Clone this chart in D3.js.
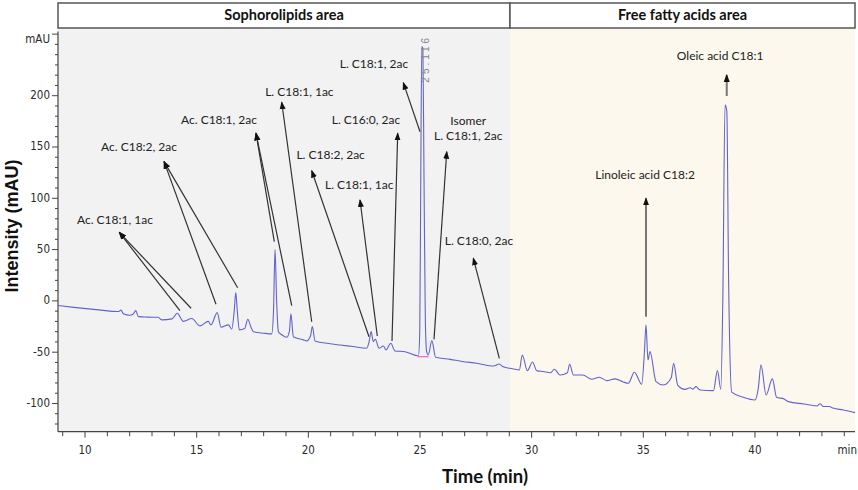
<!DOCTYPE html>
<html>
<head>
<meta charset="utf-8">
<script src="https://cdn.jsdelivr.net/npm/d3@7"></script>
<style>
  html, body { margin: 0; padding: 0; background: #fff; }
  svg { display: block; }
  .tick-label { font-family: "Liberation Sans Narrow", "DejaVu Sans Condensed", "Liberation Sans", sans-serif; font-size: 11.5px; fill: #2a2a2a; }
  .ann { font-family: Lato, "Open Sans", sans-serif; font-size: 12px; fill: #222; }
  .hdr { font-family: Lato, "Open Sans", sans-serif; font-size: 14.5px; font-weight: bold; fill: #111; }
</style>
</head>
<body>
<svg id="chart" width="858" height="490"></svg>
<script>
// ---------- data ----------
// chromatogram trace: [time (min), intensity (mAU)]
const traceTime = [8.79,9.5,10.5,11.49,11.61,11.72,12.0,12.15,12.27,12.39,12.8,13.28,13.43,13.9,14.13,14.4,14.78,15.15,15.52,15.64,15.92,16.09,16.42,16.57,16.68,16.75,16.82,16.91,17.15,17.29,17.42,17.54,18.0,18.36,18.44,18.51,18.58,18.66,18.81,19.03,19.15,19.22,19.33,19.78,19.93,20.1,20.18,20.3,20.9,21.42,22.0,22.61,22.72,22.81,22.91,23.0,23.17,23.36,23.48,23.69,23.88,24.33,24.93,24.99,25.03,25.08,25.13,25.18,25.24,25.3,25.37,25.53,25.7,26.35,26.9,27.54,28.3,28.55,28.7,29.03,29.45,29.58,29.81,30.04,30.23,30.52,30.85,31.02,31.27,31.6,31.7,31.87,32.29,32.69,33.03,33.36,33.74,34.1,34.33,34.6,34.93,35.05,35.12,35.21,35.3,35.57,35.9,36.25,36.36,36.54,36.87,37.1,37.22,37.36,37.54,38.14,38.32,38.47,38.56,38.66,38.74,38.82,38.96,39.48,40.0,40.15,40.27,40.5,40.78,40.97,41.3,41.5,42.2,42.77,42.92,43.06,43.33,43.5,43.96,44.48];
const traceIntensity = [-4.5,-6.3,-8.5,-10.4,-9.0,-12.5,-14,-13,-9.5,-15.3,-15.8,-16,-18.5,-17.5,-12,-20,-17.2,-24.4,-20,-23.4,-11.4,-25.7,-23.4,-27.6,-10,8.1,-10,-28.3,-27,-17.9,-25,-30,-31.5,-32.2,-10,50.4,0,-30,-33,-35.5,-30,-12.7,-35,-38,-39,-34,-25,-39,-41.5,-43,-44.5,-46.2,-40,-30,-39.7,-37.4,-46.2,-44,-47.8,-41.3,-48.8,-49.5,-53.7,-30,100,248,246,120,-20,-49.5,-52.7,-38.7,-55,-57,-59,-60.8,-63.5,-61.5,-64,-65.7,-67.3,-52.7,-68,-59.5,-68,-68.9,-70,-66.7,-72.2,-70,-61.8,-72.2,-72.2,-76.4,-74.4,-77.7,-76,-79,-80.3,-69.6,-81.3,-50,-23.4,-57.6,-49.5,-78.7,-82,-75,-60.8,-82,-86.2,-84.6,-86,-83.6,-86.8,-87.5,-68,-86.2,0,191,185,20,-89,-94,-96.6,-85,-62.4,-91.7,-76,-94,-95.6,-98.2,-100.5,-102.4,-100.2,-103,-103,-104.5,-106.3,-108.9];

// integration baseline under the main peak
const baselineTime = [24.9, 25.38];
const baselineIntensity = [-54.4, -54.4];

// retention-time label of the main peak
const mainPeakRT = 25.116;
const mainPeakLabel = "25.116";

// regions
const regionNames = ["Sophorolipids area", "Free fatty acids area"];
const regionStart = [8.79, 29.03];
const regionEnd = [29.03, 44.48];

// annotations: text lines, text position, arrow head, arrow tails (time, mAU)
const annLabels = [["Ac. C18:1, 1ac"],["Ac. C18:2, 2ac"],["Ac. C18:1, 2ac"],["L. C18:1, 1ac"],["L. C18:2, 2ac"],["L. C18:1, 1ac"],["L. C16:0, 2ac"],["L. C18:1, 2ac"],["Isomer","L. C18:1, 2ac"],["L. C18:0, 2ac"],["Linoleic acid C18:2"],["Oleic acid C18:1"]];
const annTextTime = [11.34,12.42,16.0,19.6,21.0,22.28,22.58,22.94,27.16,27.64,35.08,38.44];
const annTextMAU = [78.1,148.7,175.3,202.9,141.5,112.0,175.6,229.9,174.6,57.7,122.0,237.4];
const annHeadTime = [11.535,13.54,17.657,18.808,20.151,22.314,24.002,24.253,26.197,27.388,35.122,38.736];
const annHeadMAU = [66.8,135.7,163.3,193.6,126.9,98.3,163.3,212.7,145.4,41.5,100,220.2];
const annTailTime = [[14.25,14.75],[15.865,16.835],[18.476,19.256],[20.151],[22.717],[23.089],[23.747],[25.001],[25.628],[28.553],[35.122],[38.736]];
const annTailMAU = [[-9.6,-7.2],[-3.3,12.8],[57.7,-4.7],[-20.3],[-34.9],[-34.2],[-39.1],[164.9],[-37.5],[-56],[-15.4],[199.7]];
const annHeavy = [false,false,false,false,false,false,false,false,false,false,true,true];

// axis ticks
const xMajorTicks = [10, 15, 20, 25, 30, 35, 40];
const yMajorTicks = [-100, -50, 0, 50, 100, 150, 200];
const yTopTick = 260;
const yUnitLabel = "mAU";
const xUnitLabel = "min";
const xTitle = "Time (min)";
const yTitle = "Intensity (mAU)";

// ---------- drawing ----------
const svg = d3.select("#chart");
const x = d3.scaleLinear().domain([8.79, 44.48]).range([58, 855]);
const y = d3.scaleLinear().domain([-127.5, 265]).range([431.7, 29]);

const headerTop = 3, headerBottom = 28;
const regionFill = ["#f2f2f2", "#fdf8ed"];

// backgrounds
regionNames.forEach((n, i) => {
  svg.append("rect")
    .attr("x", x(regionStart[i])).attr("y", headerBottom)
    .attr("width", x(regionEnd[i]) - x(regionStart[i]))
    .attr("height", y(-127.5) - headerBottom)
    .attr("fill", regionFill[i]);
});

// header boxes
regionNames.forEach((n, i) => {
  svg.append("rect")
    .attr("x", x(regionStart[i])).attr("y", headerTop)
    .attr("width", x(regionEnd[i]) - x(regionStart[i]))
    .attr("height", headerBottom - headerTop)
    .attr("fill", "#fff").attr("stroke", "#555").attr("stroke-width", 1.5);
  svg.append("text").attr("class", "hdr")
    .attr("x", (x(regionStart[i]) + x(regionEnd[i])) / 2)
    .attr("y", (headerTop + headerBottom) / 2 + 1)
    .attr("text-anchor", "middle").attr("dominant-baseline", "middle")
    .text(n);
});

// y axis
const yAxisG = svg.append("g");
yAxisG.append("line").attr("x1", 58).attr("x2", 58)
  .attr("y1", y(262.5)).attr("y2", y(-127.5)).attr("stroke", "#444").attr("stroke-width", 1.2);
const yMinor = d3.range(-120, 261, 10);
yAxisG.selectAll("line.ym").data(yMinor).join("line")
  .attr("x1", d => (yMajorTicks.includes(d) || d === yTopTick) ? 52 : 55).attr("x2", 58)
  .attr("y1", d => y(d)).attr("y2", d => y(d))
  .attr("stroke", "#444").attr("stroke-width", 1);
yAxisG.selectAll("text.yl").data(yMajorTicks).join("text")
  .attr("class", "tick-label")
  .attr("x", 50).attr("y", d => y(d))
  .attr("text-anchor", "end").attr("dominant-baseline", "middle")
  .text(d => d);
yAxisG.append("text").attr("class", "tick-label")
  .attr("x", 50).attr("y", y(yTopTick) + 5)
  .attr("text-anchor", "end").attr("dominant-baseline", "middle")
  .attr("font-size", "10px")
  .text(yUnitLabel);

// x axis
const xAxisG = svg.append("g");
xAxisG.append("line").attr("x1", 58).attr("x2", 855)
  .attr("y1", y(-127.5)).attr("y2", y(-127.5)).attr("stroke", "#444").attr("stroke-width", 1.2);
const xMinor = d3.range(9, 45, 1);
xAxisG.selectAll("line.xm").data(xMinor).join("line")
  .attr("x1", d => x(d)).attr("x2", d => x(d))
  .attr("y1", y(-127.5)).attr("y2", d => y(-127.5) + (xMajorTicks.includes(d) ? 6 : 4.5))
  .attr("stroke", "#444").attr("stroke-width", 1);
xAxisG.selectAll("text.xl").data(xMajorTicks).join("text")
  .attr("class", "tick-label")
  .attr("x", d => x(d)).attr("y", 450)
  .attr("text-anchor", "middle").attr("dominant-baseline", "middle")
  .text(d => d);
xAxisG.append("text").attr("class", "tick-label")
  .attr("x", 857).attr("y", 450)
  .attr("text-anchor", "end").attr("dominant-baseline", "middle")
  .attr("font-size", "10px")
  .text(xUnitLabel);

// axis titles
svg.append("text")
  .attr("transform", "translate(18,226) rotate(-90)")
  .attr("text-anchor", "middle")
  .attr("font-family", "'Liberation Sans', Arial, sans-serif")
  .attr("font-weight", "bold").attr("font-size", "18px").attr("fill", "#111")
  .text(yTitle);
svg.append("text")
  .attr("x", 485).attr("y", 483)
  .attr("text-anchor", "middle")
  .attr("font-family", "Lato, 'Open Sans', sans-serif")
  .attr("font-weight", "bold").attr("font-size", "18.5px").attr("fill", "#111")
  .text(xTitle);

// trace
const trace = traceTime.map((t, i) => [t, traceIntensity[i]]);
svg.append("path")
  .datum(trace)
  .attr("fill", "none").attr("stroke", "#6262cc").attr("stroke-width", 1.1)
  .attr("stroke-linejoin", "round")
  .attr("d", d3.line().x(d => x(d[0])).y(d => y(d[1])).curve(d3.curveMonotoneX));

// integration baseline
svg.append("line")
  .attr("x1", x(baselineTime[0])).attr("x2", x(baselineTime[1]))
  .attr("y1", y(baselineIntensity[0])).attr("y2", y(baselineIntensity[1]))
  .attr("stroke", "#f060c8").attr("stroke-width", 1.2);

// retention time label
svg.append("text")
  .attr("transform", `translate(${x(mainPeakRT) + 6},${y(236)}) rotate(-90)`)
  .attr("text-anchor", "middle")
  .attr("font-family", "'Liberation Sans', Arial, sans-serif")
  .attr("font-size", "10px").attr("letter-spacing", "3px").attr("fill", "#888")
  .text(mainPeakLabel);

// arrow markers
const defs = svg.append("defs");
defs.append("marker").attr("id", "ah")
  .attr("viewBox", "0 -4 8 8").attr("refX", 7).attr("refY", 0)
  .attr("markerUnits", "userSpaceOnUse").attr("markerWidth", 8).attr("markerHeight", 8)
  .attr("orient", "auto")
  .append("path").attr("d", "M0,-3L8,0L0,3Z").attr("fill", "#111");

// annotations
annLabels.forEach((lines, i) => {
  annTailTime[i].forEach((tt, j) => {
    svg.append("line")
      .attr("x1", x(tt)).attr("y1", y(annTailMAU[i][j]))
      .attr("x2", x(annHeadTime[i])).attr("y2", y(annHeadMAU[i]))
      .attr("stroke", annHeavy[i] ? "#777" : "#333")
      .attr("stroke-width", annHeavy[i] ? 2 : 1.2)
      .attr("marker-end", "url(#ah)");
  });
  const lh = 15.6;
  lines.forEach((ln, k) => {
    svg.append("text").attr("class", "ann")
      .attr("x", x(annTextTime[i]))
      .attr("y", y(annTextMAU[i]) + k * lh)
      .attr("text-anchor", "middle").attr("dominant-baseline", "middle")
      .text(ln);
  });
});
</script>
</body>
</html>
